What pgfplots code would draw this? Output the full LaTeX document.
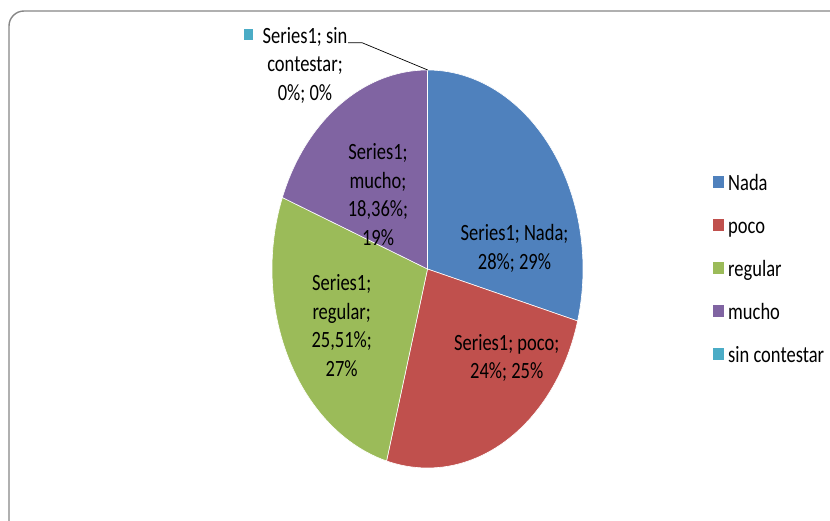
\documentclass[border=0pt]{standalone}
\usepackage{fontspec}
\setmainfont{Carlito}
\usepackage{pgfplots}
\usepackage{pgfplotstable}
\pgfplotsset{compat=1.18}
\definecolor{cNada}{HTML}{4F81BD}
\definecolor{cPoco}{HTML}{C0504D}
\definecolor{cRegular}{HTML}{9BBB59}
\definecolor{cMucho}{HTML}{8064A2}
\definecolor{cSin}{HTML}{4BACC6}
\definecolor{cFrame}{RGB}{134,134,134}

\pgfplotstableread{
label value
Nada 28
poco 24
regular 25.51
mucho 18.36
sin 0
}\piedata

\newcommand\lbl[1]{\scalebox{1}[1.26]{\begin{tabular}{@{}c@{}}#1\end{tabular}}}
\newcommand\leg[1]{\scalebox{1}[1.26]{\strut #1}}
\newcommand\pcx{427.5}
\newcommand\pcy{251}
\newcommand\piewedge[3]{%
  \fill[#1, draw=white, line width=0.6pt] (axis cs:\pcx,\pcy) -- +(#2:155.5pt and 199pt)
    arc[start angle=#2, end angle=#3, x radius=155.5pt, y radius=199pt] -- cycle;}

\begin{document}
\begin{tikzpicture}
\gdef\pietotal{0}
\foreach \i in {0,...,4}{%
  \pgfplotstablegetelem{\i}{value}\of\piedata
  \pgfmathsetmacro\tmpt{\pietotal+\pgfplotsretval}%
  \xdef\pietotal{\tmpt}%
}
\gdef\piecum{0}
\foreach \i/\n in {0/A,1/B,2/C,3/D,4/E}{%
  \pgfplotstablegetelem{\i}{value}\of\piedata
  \pgfmathsetmacro\sa{90-(\piecum/\pietotal)*360}%
  \pgfmathsetmacro\nc{\piecum+\pgfplotsretval}%
  \xdef\piecum{\nc}%
  \pgfmathsetmacro\eb{90-(\piecum/\pietotal)*360}%
  \expandafter\xdef\csname pieS\n\endcsname{\sa}%
  \expandafter\xdef\csname pieE\n\endcsname{\eb}%
}
\useasboundingbox (0,0) rectangle (830pt,520pt);
\begin{axis}[at={(0,0)}, anchor=south west,
  width=830pt, height=520pt, scale only axis,
  xmin=0, xmax=830, ymin=0, ymax=520,
  hide axis, clip=false,
  legend style={at={(axis cs:713,349)}, anchor=north west, draw=none, fill=none,
    font=\fontsize{18.5}{22.6}\selectfont, row sep=21.5pt, column sep=5.3pt,
    inner sep=0pt, outer sep=0pt, nodes={inner sep=0pt}},
  legend cell align=left,
  legend image code/.code={\fill[#1] (0pt,-5.5pt) rectangle (9.5pt,5.5pt);},
]
\draw[cFrame, line width=1.4pt, rounded corners=15pt] (axis cs:9,509) rectangle (axis cs:870,-40);

\piewedge{cNada}{\pieSA}{\pieEA}
\piewedge{cPoco}{\pieSB}{\pieEB}
\piewedge{cRegular}{\pieSC}{\pieEC}
\piewedge{cMucho}{\pieSD}{\pieED}
\piewedge{cSin}{\pieSE}{\pieEE}

\addlegendimage{cNada}\addlegendentry{\leg{Nada}}
\addlegendimage{cPoco}\addlegendentry{\leg{poco}}
\addlegendimage{cRegular}\addlegendentry{\leg{regular}}
\addlegendimage{cMucho}\addlegendentry{\leg{mucho}}
\addlegendimage{cSin}\addlegendentry{\leg{sin contestar}}

\begin{scope}[every node/.style={font=\fontsize{18.5}{22.6}\selectfont, inner sep=0pt, text=black}]
\node at (axis cs:514.5,270.5) {\lbl{Series1; Nada;\\28\%; 29\%}};
\node at (axis cs:506.7,161) {\lbl{Series1; poco;\\24\%; 25\%}};
\node at (axis cs:341.7,192.4) {\lbl{Series1;\\regular;\\25,51\%;\\27\%}};
\node at (axis cs:378,323) {\lbl{Series1;\\mucho;\\18,36\%;\\19\%}};
\node at (axis cs:305,454) {\lbl{\llap{\textcolor{cSin}{\rule[2.5pt]{9pt}{8.7pt}}\hspace{10pt}}Series1; sin\\contestar;\\0\%; 0\%}};
\end{scope}
\draw[black, line width=0.7pt] (axis cs:348,477.3) -- (axis cs:362,477.3) -- (axis cs:427.7,450);
\end{axis}
\end{tikzpicture}
\end{document}
